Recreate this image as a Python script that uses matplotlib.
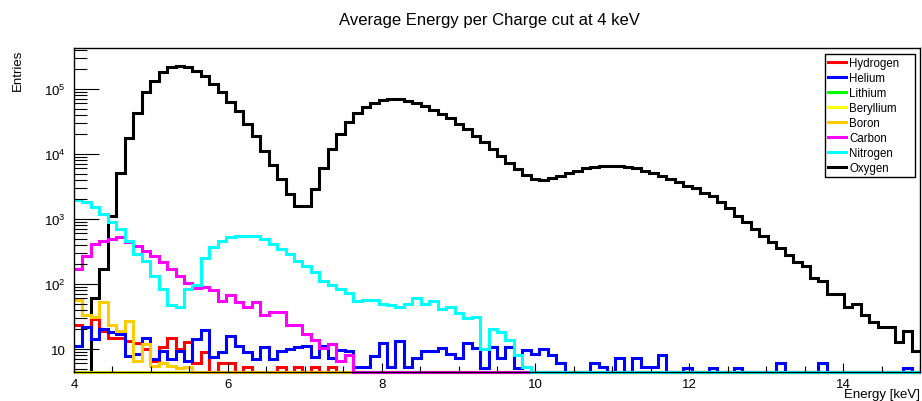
import numpy as np
import matplotlib
matplotlib.use("Agg")
import matplotlib.pyplot as plt
from matplotlib.lines import Line2D
from matplotlib.ticker import LogLocator, MultipleLocator, NullFormatter, FuncFormatter

plt.rcParams['font.family'] = ['Liberation Sans', 'DejaVu Sans']
plt.rcParams['mathtext.fontset'] = 'custom'
plt.rcParams['mathtext.rm'] = 'Liberation Sans'

# 100 bins between 4 and 15 keV
e_min, e_max, n_bins = 4.0, 15.0, 100
edges = np.linspace(e_min, e_max, n_bins + 1)

# entries per bin for each species
hydrogen = [23.6, 22, 29, 19, 15, 15, 13.4, 12.2, 10, 6.6,
            10.6, 15, 10, 12.7, 6.2, 9, 0, 6, 6, 0,
            5.3, 0, 0, 0, 5.3, 0, 5.3, 0, 5.3, 0,
            5.3] + [0] * 69
helium = [11.2, 22, 14.3, 20.3, 18, 17, 7.9, 8.5, 14.8, 7,
          9.4, 7, 9.4, 6.6, 14.3, 19.6, 7.5, 9, 16, 11.2,
          9, 7, 10.6, 7, 9.4, 10, 10.6, 11.2, 7.5, 11,
          7.3, 9.5, 9.4, 5.2, 5.2, 7.9, 12.5, 5.2, 13.4, 5.2,
          7.3, 9.2, 9.2, 10.3, 8.5, 7.3, 12.4, 10.5, 5.1, 10.8,
          7.3, 10.8, 5.1, 9.8, 8.5, 10, 8.1, 6.1, 0, 0,
          0, 6.2, 5.3, 0, 7.2, 0, 7.2, 5.3, 5.3, 8,
          0, 0, 5.1, 0, 0, 5.1, 0, 0, 5.1, 0,
          0, 0, 0, 6.1, 0, 0, 0, 0, 6.1, 0,
          0, 0, 0, 0, 0, 0, 0, 0, 5.1, 0]
lithium = [0] * 100
beryllium = [0] * 100
boron = [57, 33, 31, 53, 23, 19, 27, 6.5, 12, 5.5,
         6.1, 5.5, 5.1, 5.3] + [0] * 86
carbon = [170, 273, 412, 464, 492, 522, 438, 389, 326, 273,
          215, 170, 134, 102, 88, 89, 81, 54, 68, 52,
          44, 52, 33, 37, 37, 23, 23, 17, 14, 10.5,
          12, 6.5, 8.2] + [0] * 67
nitrogen = [1960, 1810, 1510, 1190, 889, 702, 464, 289, 229, 134,
            84, 48, 44, 84, 95, 250, 366, 464, 535, 555,
            555, 555, 492, 412, 345, 289, 229, 192, 151, 110,
            97, 84, 74, 54, 57, 57, 49, 47, 45, 49,
            60, 49, 54, 41, 45, 36, 30, 31, 10, 20,
            18, 14, 8, 5.2] + [0] * 46
oxygen = [0, 0, 60, 170, 1125, 5050, 17400, 42700, 89000, 134000,
          185000, 215000, 228000, 215000, 187000, 160000, 119000, 89000, 63800, 46400,
          28900, 18700, 11200, 6770, 4120, 2420, 1570, 1570, 2890, 6020,
          11900, 20300, 31400, 42700, 52300, 60900, 67800, 70200, 69300, 66200,
          60900, 55400, 48100, 41200, 35400, 28900, 24200, 19100, 15500, 11900,
          9200, 7180, 5870, 4750, 4120, 4030, 4230, 4650, 5100, 5540,
          6020, 6380, 6620, 6620, 6460, 6310, 6020, 5540, 5100, 4530,
          4120, 3660, 3180, 2950, 2550, 2290, 1800, 1460, 1120, 889,
          702, 555, 438, 354, 279, 221, 192, 122, 112, 70,
          70, 45, 49, 33, 26, 22, 22, 13, 19, 9.4]

names = ["Hydrogen", "Helium", "Lithium", "Beryllium", "Boron", "Carbon", "Nitrogen", "Oxygen"]
series = [hydrogen, helium, lithium, beryllium, boron, carbon, nitrogen, oxygen]
colors = ["#ff0000", "#0000ff", "#00ff00", "#ffff00", "#ffcc00", "#ff00ff", "#00ffff", "#000000"]

y_lo, y_hi = 4.43, 4.27e5

fig = plt.figure(figsize=(9.22, 4.02), dpi=100)
ax = fig.add_axes([74 / 922, 1 - 373 / 402, (920 - 74) / 922, (373 - 49) / 402])
ax.set_yscale('log')
ax.set_xlim(e_min, e_max)
ax.set_ylim(y_lo, y_hi)

# oxygen first so it sets the frame, the others on top of it
order = [7, 0, 1, 2, 3, 4, 5, 6]
for k in order:
    vals = np.clip(np.asarray(series[k], dtype=float), y_lo, None)
    ax.stairs(vals, edges, color=colors[k], lw=2.2, baseline=None, clip_on=False)

ax.xaxis.set_major_locator(MultipleLocator(2))
ax.xaxis.set_minor_locator(MultipleLocator(0.5))
ax.yaxis.set_major_locator(LogLocator(base=10, numticks=10))
ax.yaxis.set_minor_locator(LogLocator(base=10, subs=np.arange(2, 10), numticks=20))
ax.yaxis.set_minor_formatter(NullFormatter())


def decade_label(v, pos):
    n = int(round(np.log10(v)))
    return '10' if n == 1 else r'$\mathregular{10^{%d}}$' % n


ax.yaxis.set_major_formatter(FuncFormatter(decade_label))

ax.tick_params(axis='y', which='major', direction='in', length=18, width=0.8, labelsize=9.5, pad=6)
ax.tick_params(axis='y', which='minor', direction='in', length=9.4, width=0.8)
ax.tick_params(axis='x', which='major', direction='in', length=6.5, width=0.8, labelsize=9.5, pad=4)
ax.tick_params(axis='x', which='minor', direction='in', length=4.3, width=0.8)
for sp in ax.spines.values():
    sp.set_linewidth(1.0)

fig.text(489.5 / 922, 1 - 20 / 402, "Average Energy per Charge cut at 4 keV",
         ha='center', va='center', fontsize=12)
fig.text(920 / 922, 1 - 395 / 402, "Energy [keV]", ha='right', va='center', fontsize=9.5)
fig.text(18 / 922, 1 - 50 / 402, "Entries", rotation=90, ha='center', va='top', fontsize=9.5)

# fixed-width legend box in the upper right corner
handles = [Line2D([], [], color=c, lw=2.2) for c in colors]
leg = ax.legend(handles, names, loc='upper left',
                bbox_to_anchor=(825 / 922, 1 - 177 / 402, 90 / 922, 122 / 402),
                bbox_transform=fig.transFigure, mode='expand', fontsize=8.3, frameon=True,
                fancybox=False, edgecolor='black', framealpha=1, handlelength=1.5,
                handletextpad=0.3, labelspacing=0.25, borderpad=0.3, borderaxespad=0)
leg.get_frame().set_linewidth(1.0)

fig.savefig("out.png", dpi=100)
